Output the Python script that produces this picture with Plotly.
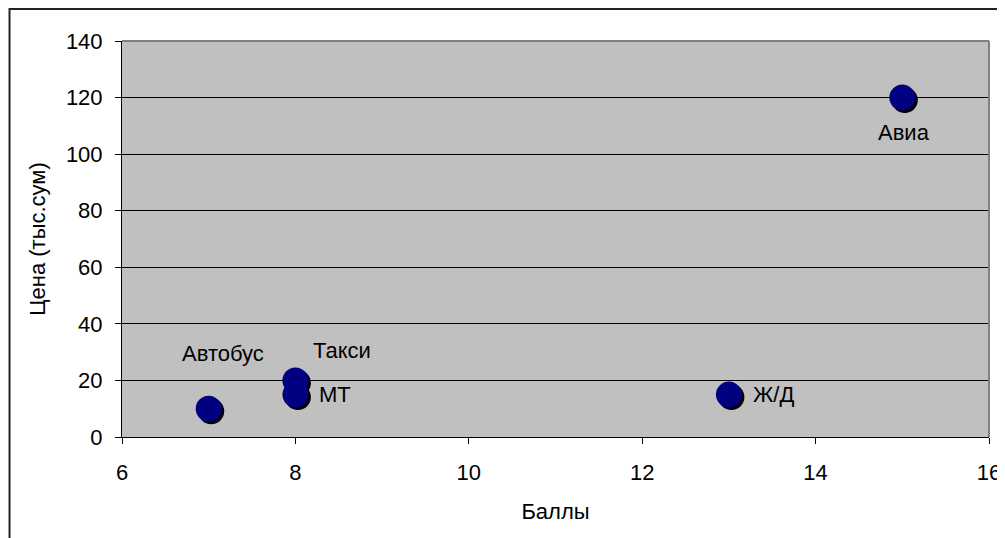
import plotly.graph_objects as go

names = ["Автобус", "Такси", "МТ", "Ж/Д", "Авиа"]
scores = [7, 8, 8, 13, 15]
prices = [10, 20, 15, 15, 120]
label_shift_x = [14, 47, 22, 22, 2]
label_shift_y = [55, 30, 0, 0, -35]
label_anchor = ["center", "center", "left", "left", "center"]

W, H = 1005, 538
OFF = 8  # page body offset
L, T = 122 - OFF, 41 - OFF
pw, ph = 871, 396
R, B = W - L - pw, H - T - ph
xr, yr = [6, 16], [0, 140]
dx = 2.5 * (xr[1] - xr[0]) / pw
dy = 2.5 * (yr[1] - yr[0]) / ph

FONT = "Liberation Sans, Arial, sans-serif"
FS = 22

fig = go.Figure()
fig.add_trace(go.Scatter(
    x=[v + dx for v in scores], y=[v - dy for v in prices], mode="markers",
    marker=dict(size=26, color="black"), hoverinfo="skip", showlegend=False))
fig.add_trace(go.Scatter(
    x=scores, y=prices, mode="markers", text=names,
    marker=dict(size=26, color="#000080"), showlegend=False))

for n, xv, yv, sx, sy, an in zip(names, scores, prices, label_shift_x, label_shift_y, label_anchor):
    fig.add_annotation(x=xv, y=yv, text=n, showarrow=False, xanchor=an, yanchor="middle",
                       xshift=sx, yshift=sy, font=dict(size=FS, color="black", family=FONT))

# figure border (reference pixel 9 -> figure pixel 1)
fig.add_shape(type="rect", xref="paper", yref="paper",
              x0=(9 - OFF - L) / pw, x1=(1020 - L) / pw,
              y0=(T + ph - 560) / ph, y1=(T + ph - (9 - OFF)) / ph,
              line=dict(color="#222222", width=2), layer="below")
# plot frame top/right
fig.add_shape(type="line", xref="paper", yref="paper", x0=0, x1=1, y0=1, y1=1,
              line=dict(color="#808080", width=2))
fig.add_shape(type="line", xref="paper", yref="paper", x0=1, x1=1, y0=0, y1=1,
              line=dict(color="#808080", width=2))

fig.update_layout(
    width=W, height=H, margin=dict(l=L, r=R, t=T, b=B),
    paper_bgcolor="white", plot_bgcolor="#C0C0C0",
    font=dict(family=FONT, size=FS, color="black"),
    xaxis=dict(range=xr, dtick=2, showgrid=False, zeroline=False, showline=True,
               linecolor="black", linewidth=1, ticks="outside", ticklen=6, tickcolor="black",
               ticklabelstandoff=10,
               title=dict(text="Баллы", standoff=19, font=dict(size=FS))),
    yaxis=dict(range=yr, dtick=20, showgrid=True, gridcolor="black", gridwidth=1, zeroline=False,
               showline=True, linecolor="black", linewidth=1, ticks="outside", ticklen=6,
               tickcolor="black", ticklabelstandoff=8,
               title=dict(text="Цена (тыс.сум)", standoff=14, font=dict(size=FS))),
)
fig.write_html("out.html")
